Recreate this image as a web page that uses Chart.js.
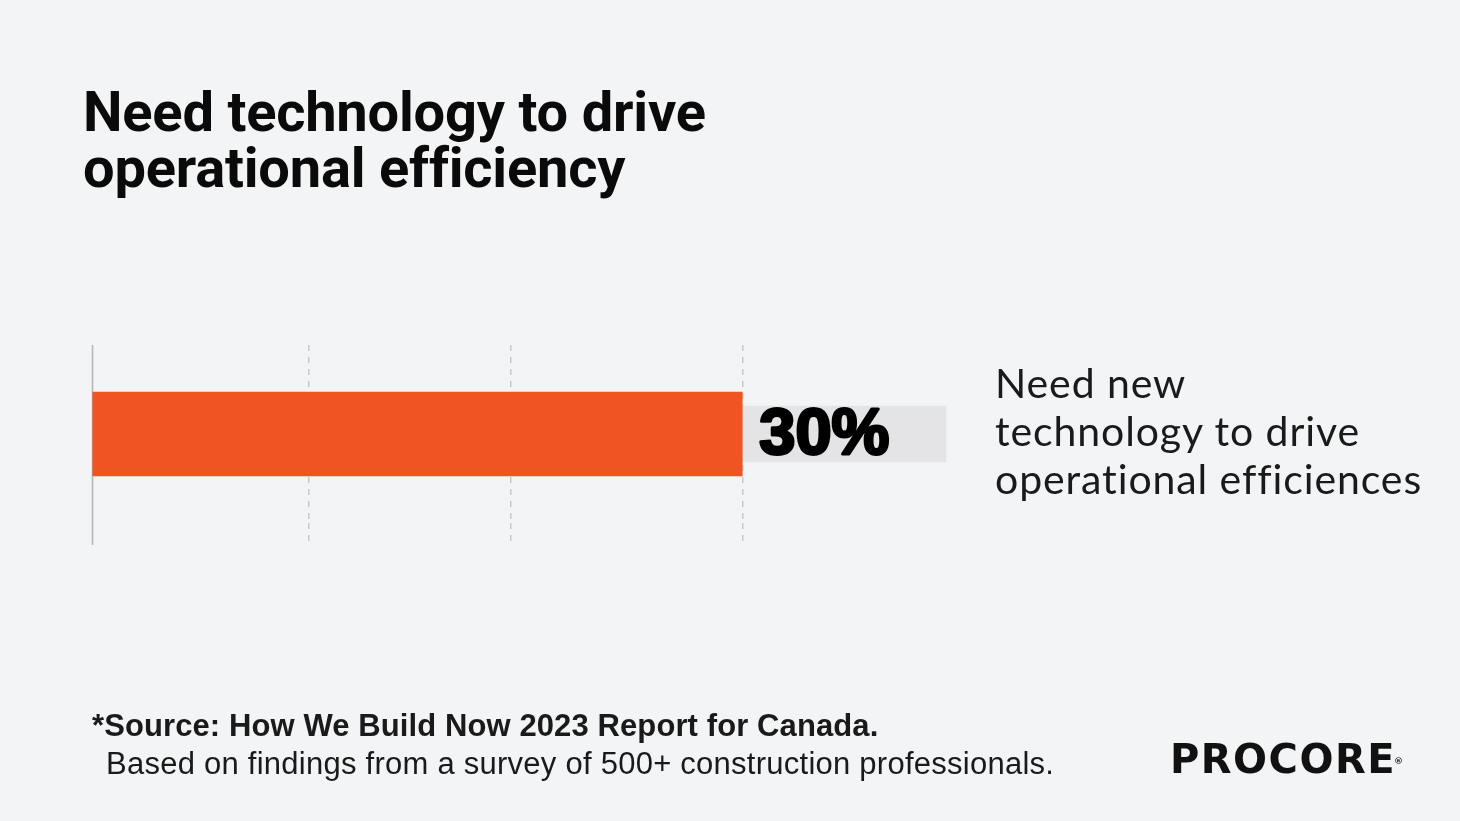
<!DOCTYPE html>
<html>
<head>
<meta charset="utf-8">
<script src="https://cdn.jsdelivr.net/npm/chart.js@4.4.1/dist/chart.umd.min.js"></script>
<style>
  html, body { margin: 0; padding: 0; background: #f3f4f6; }
  #page { position: relative; width: 1460px; height: 821px; overflow: hidden; background: #f3f4f6; }
  #chart-wrap { position: absolute; left: 0; top: 0; width: 1460px; height: 821px; }
  .title { position: absolute; left: 83px; top: 84px; font-family: Roboto, sans-serif; font-weight: 700;
    font-size: 56px; line-height: 56px; color: #0a0a0a; margin: 0; letter-spacing: -0.2px; }
  .side { position: absolute; left: 995px; top: 359px; font-family: Lato, sans-serif; font-size: 41px;
    line-height: 48px; color: #1a1a1a; letter-spacing: 0.9px; }
  .source { position: absolute; left: 92px; top: 707px; font-family: "Liberation Sans", Arial, sans-serif;
    font-size: 31px; line-height: 38px; color: #1a1a1a; }
  .source b { font-weight: 700; letter-spacing: 0.1px; }
  .source span { padding-left: 14px; letter-spacing: 0.25px; }
  .logo { position: absolute; left: 1170px; top: 737px; font-family: "DejaVu Sans", sans-serif; font-weight: 700;
    font-size: 40px; line-height: 44px; color: #111; letter-spacing: 1.5px; }
  .logo sup { font-size: 9px; vertical-align: top; position: relative; top: 2px; left: -2px; }
</style>
</head>
<body>
<div id="page">
  <div id="chart-wrap"><canvas id="need-tech-chart"></canvas></div>
  <h1 class="title">Need technology to drive<br>operational efficiency</h1>
  <div class="side">Need new<br>technology to drive<br>operational efficiences</div>
  <div class="source"><b>*Source: How We Build Now 2023 Report for Canada.</b><br><span>Based on findings from a survey of 500+ construction professionals.</span></div>
  <div class="logo">PROCORE<sup>®</sup></div>
</div>
<script>
// Data
const categories = ['Need new technology to drive operational efficiences'];
const shareValues = [30];          // percent of respondents
const labelPad = [9.4];            // grey label strip behind the value
const gridValues = [0, 10, 19.3, 30];
const axisMax = 40;

const ORANGE = '#f05423';
const LABEL_BG = '#e4e4e6';
const GRID = '#c9c9cd';

// draws the solid zero line and the value label
const extrasPlugin = {
  id: 'extras',
  beforeDatasetsDraw(chart) {
    const { ctx, scales: { x }, chartArea } = chart;
    const px = Math.round(x.getPixelForValue(0)) + 0.5;
    ctx.save();
    ctx.strokeStyle = '#b4b4b8';
    ctx.lineWidth = 1.5;
    ctx.beginPath();
    ctx.moveTo(px, chartArea.top);
    ctx.lineTo(px, chartArea.bottom + 22);
    ctx.stroke();
    ctx.restore();
  },
  afterDatasetsDraw(chart) {
    const { ctx } = chart;
    const meta = chart.getDatasetMeta(0);
    meta.data.forEach((bar, i) => {
      ctx.save();
      ctx.font = 'bold 65px "Liberation Sans", Arial, sans-serif';
      ctx.fillStyle = '#000';
      ctx.strokeStyle = '#000';
      ctx.lineWidth = 3;
      ctx.lineJoin = 'round';
      ctx.textBaseline = 'middle';
      const txt = shareValues[i] + '%';
      ctx.strokeText(txt, bar.x + 17, bar.y + 2);
      ctx.fillText(txt, bar.x + 17, bar.y + 2);
      ctx.restore();
    });
  }
};

new Chart(document.getElementById('need-tech-chart'), {
  type: 'bar',
  data: {
    labels: categories,
    datasets: [
      {
        data: shareValues,
        backgroundColor: ORANGE,
        barThickness: 84,
        borderWidth: 0
      },
      {
        data: labelPad,
        backgroundColor: LABEL_BG,
        barThickness: 56,
        borderWidth: 0
      }
    ]
  },
  options: {
    indexAxis: 'y',
    responsive: true,
    maintainAspectRatio: false,
    animation: false,
    layout: { padding: { left: 92, top: 345, right: 501, bottom: 278 } },
    plugins: {
      legend: { display: false },
      tooltip: { enabled: false }
    },
    scales: {
      x: {
        stacked: true,
        min: 0,
        max: axisMax,
        afterBuildTicks: (scale) => { scale.ticks = gridValues.map(v => ({ value: v })); },
        ticks: { display: false },
        border: { display: false, dash: [6, 6] },
        grid: {
          color: (c) => (c.tick && c.tick.value === 0) ? 'rgba(0,0,0,0)' : GRID,
          lineWidth: 1.5,
          drawTicks: true,
          tickLength: 20,
          tickBorderDash: [6, 6]
        }
      },
      y: {
        stacked: true,
        display: false
      }
    }
  },
  plugins: [extrasPlugin]
});
</script>
</body>
</html>
